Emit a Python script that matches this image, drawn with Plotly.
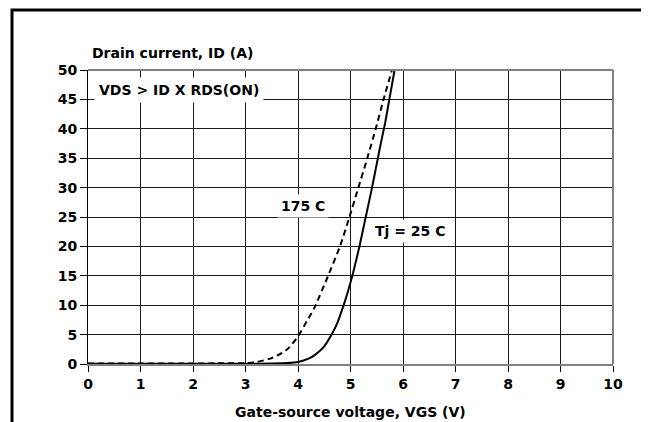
import plotly.graph_objects as go

# 25 C curve (solid)
vgs_25 = [0, 1, 2, 3, 3.5, 3.8, 4.0, 4.2, 4.33, 4.5, 4.64, 4.75, 4.85, 4.95, 5.05, 5.17, 5.29, 5.41, 5.51, 5.60, 5.66, 5.74, 5.84]
id_25 = [0.05, 0.05, 0.05, 0.05, 0.08, 0.15, 0.34, 0.9, 1.6, 3.0, 5.0, 7.0, 9.5, 12.3, 15.5, 20.0, 25.0, 30.0, 34.5, 38.5, 41.0, 45.0, 50.0]

# 175 C curve (dashed)
vgs_175 = [0, 1, 2, 3, 3.2, 3.5, 3.7, 3.82, 4.0, 4.17, 4.31, 4.55, 4.8, 4.98, 5.15, 5.32, 5.48, 5.63, 5.79]
id_175 = [0.1, 0.1, 0.1, 0.15, 0.3, 1.0, 1.9, 2.7, 4.7, 7.3, 9.5, 14.5, 20.0, 25.0, 30.0, 35.0, 40.0, 45.0, 50.0]

x_ticks = [0, 1, 2, 3, 4, 5, 6, 7, 8, 9, 10]
y_ticks = [0, 5, 10, 15, 20, 25, 30, 35, 40, 45, 50]

FONT = "DejaVu Sans, Arial, sans-serif"

# plot area in pixels
L, R, T, B = 80, 605, 62, 356
W, H = 649, 422
PW, PH = R - L, B - T

def px(xp):
    return (xp - L) / PW

def py(yp):
    return (B - yp) / PH

fig = go.Figure()
fig.add_trace(go.Scatter(x=vgs_175, y=id_175, mode="lines",
                         line=dict(color="black", width=2, dash="6px,4px", shape="spline", smoothing=0.5),
                         showlegend=False, hoverinfo="skip"))
fig.add_trace(go.Scatter(x=vgs_25, y=id_25, mode="lines",
                         line=dict(color="black", width=2, shape="spline", smoothing=0.5),
                         showlegend=False, hoverinfo="skip"))

fig.update_layout(
    width=W, height=H,
    margin=dict(l=L, r=W - R, t=T, b=H - B),
    paper_bgcolor="white", plot_bgcolor="white",
    font=dict(family=FONT, color="black"),
    xaxis=dict(range=[0, 10], tickvals=x_ticks, ticktext=[str(v) for v in x_ticks],
               showgrid=True, gridcolor="#1a1a1a", gridwidth=1,
               showline=True, linecolor="#808080", linewidth=2,
               ticks="outside", ticklen=6, tickcolor="black", tickwidth=1,
               tickfont=dict(size=14, family=FONT, weight="bold"),
               zeroline=False, fixedrange=True),
    yaxis=dict(range=[0, 50], tickvals=y_ticks, ticktext=[str(v) for v in y_ticks],
               showgrid=True, gridcolor="#1a1a1a", gridwidth=1,
               showline=True, linecolor="black", linewidth=1,
               ticks="outside", ticklen=7, tickcolor="black", tickwidth=1,
               tickfont=dict(size=14, family=FONT, weight="bold"),
               zeroline=False, fixedrange=True),
    shapes=[
        dict(type="line", xref="paper", yref="paper", x0=0, x1=1, y0=1, y1=1,
             line=dict(color="#808080", width=2)),
        dict(type="line", xref="paper", yref="paper", x0=1, x1=1, y0=0, y1=1,
             line=dict(color="#808080", width=2)),
        dict(type="rect", xref="paper", yref="paper",
             x0=px(4), x1=px(645), y0=py(450), y1=py(2),
             line=dict(color="black", width=3), layer="above"),
    ],
    annotations=[
        dict(text="Drain current, ID (A)", xref="paper", yref="paper",
             x=px(82), y=py(45), xanchor="left", yanchor="middle",
             showarrow=False, font=dict(size=14, family=FONT, weight="bold")),
        dict(text="Gate-source voltage, VGS (V)", xref="paper", yref="paper",
             x=0.5, y=py(404), xanchor="center", yanchor="middle",
             showarrow=False, font=dict(size=14, family=FONT, weight="bold")),
        dict(text="VDS > ID X RDS(ON)", xref="x", yref="y", x=1.74, y=46.6,
             xanchor="center", yanchor="middle", showarrow=False, bgcolor="white",
             borderpad=4, font=dict(size=14, family=FONT, weight="bold")),
        dict(text="175 C", xref="x", yref="y", x=4.09, y=26.9,
             xanchor="center", yanchor="middle", showarrow=False, bgcolor="white",
             borderpad=3, font=dict(size=14, family=FONT, weight="bold")),
        dict(text="Tj = 25 C", xref="x", yref="y", x=6.14, y=22.6,
             xanchor="center", yanchor="middle", showarrow=False, bgcolor="white",
             borderpad=3, font=dict(size=14, family=FONT, weight="bold")),
    ],
)

fig.write_html("out.html")
